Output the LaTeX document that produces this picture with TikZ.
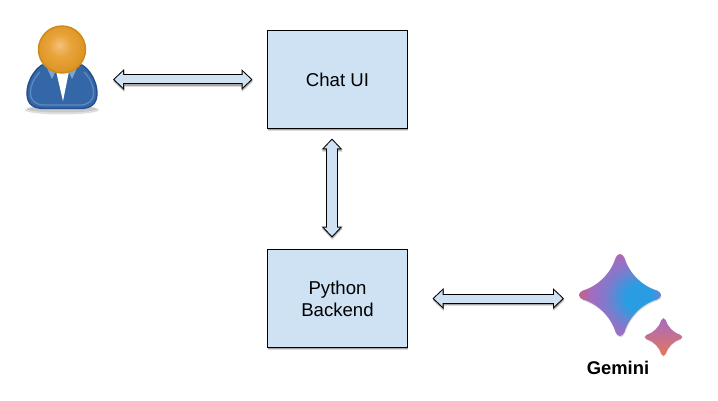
\documentclass[tikz,border=0pt]{standalone}
\usepackage{fontspec}
\setmainfont{Liberation Sans}
\usetikzlibrary{arrows.meta, positioning}

\definecolor{boxblue}{HTML}{CFE2F3}
\definecolor{gemorange}{HTML}{F0884E}
\definecolor{gemrose}{HTML}{C8607C}
\definecolor{gempurple}{HTML}{A36CC2}
\definecolor{gemblue}{HTML}{2A9DE2}
\definecolor{gempink}{HTML}{E8755A}
\definecolor{suitblue}{HTML}{3467A8}
\definecolor{suitdark}{HTML}{234F8C}
\definecolor{suitlight}{HTML}{6088BC}
\definecolor{collarblue}{HTML}{82A5CD}
\definecolor{headedge}{HTML}{CF8A16}
\definecolor{headhigh}{HTML}{F4C07E}
\definecolor{headmid}{HTML}{E8A43A}
\definecolor{headlow}{HTML}{DD9526}

\pgfdeclareradialshading{gemradial}{\pgfpoint{13bp}{-2bp}}{%
  color(0bp)=(gemblue); color(8bp)=(gemblue); color(17bp)=(gempurple!70!gemblue);
  color(24bp)=(gempurple); color(30bp)=(gemrose); color(36bp)=(gemorange); color(50bp)=(gemorange)}
\pgfdeclareradialshading{headradial}{\pgfpoint{-3bp}{5bp}}{%
  color(0bp)=(headhigh); color(12bp)=(headmid);
  color(25bp)=(headlow); color(50bp)=(headlow)}

\newcommand{\geminipath}{(-4.5,-37) .. controls (-2.5,-42.3) and (2.5,-42.3) .. (4.5,-37)
  .. controls (9,-22) and (22,-9) .. (37,-4.5) .. controls (42.3,-2.5) and (42.3,2.5) .. (37,4.5)
  .. controls (22,9) and (9,22) .. (4.5,37) .. controls (2.5,42.3) and (-2.5,42.3) .. (-4.5,37)
  .. controls (-9,22) and (-22,9) .. (-37,4.5) .. controls (-42.3,2.5) and (-42.3,-2.5) .. (-37,-4.5)
  .. controls (-22,-9) and (-9,-22) .. (-4.5,-37) -- cycle}

\tikzset{
  box/.style={draw=black, line width=1pt, fill=boxblue, minimum width=140pt, minimum height=98pt,
    outer sep=0pt, align=center, font=\fontsize{18.6}{22}\selectfont,
    preaction={fill=black!14, transform canvas={xshift=0.3pt,yshift=-2.6pt}},
    preaction={fill=black!35, transform canvas={xshift=0.3pt,yshift=-1.3pt}}},
  icon/.style={inner sep=0pt, outer sep=0pt},
  blockarrow/.style n args={3}{line width=#3, draw=black,
    {Triangle[length=11pt,width=20pt]}-{Triangle[length=11pt,width=20pt]},
    shorten <=#1, shorten >=#2,
    preaction={draw=black!14, line width=#3, transform canvas={xshift=0.3pt,yshift=-2.4pt},
      {Triangle[length=11pt,width=20pt]}-{Triangle[length=11pt,width=20pt]}},
    preaction={draw=black!35, line width=#3, transform canvas={xshift=0.3pt,yshift=-1.2pt},
      {Triangle[length=11pt,width=20pt]}-{Triangle[length=11pt,width=20pt]}},
    postaction={draw=boxblue, line width=#3-2pt,
      {Triangle[length=8.5pt,width=15.5pt]}-{Triangle[length=8.5pt,width=15.5pt]},
      shorten <=#1+1.5pt, shorten >=#2+1.5pt}}
}

\begin{document}
\begin{tikzpicture}[x=1pt, y=-1pt]
  \useasboundingbox (0,0) rectangle (718,401);

  \node[box] at (337.5,79.5) (chatui) {Chat UI};
  \node[box, below=121pt of chatui] (backend) {Python\\Backend};

  % the two pictures
  \node[icon, minimum width=75pt, minimum height=60pt, left=167.5pt of chatui] (user) {};
  \node[icon, minimum width=82pt, minimum height=82pt, right=171.5pt of backend] (gemini) {};
  \node[icon, below=21.5pt of gemini, xshift=-2pt, font=\fontsize{18.4}{20}\selectfont\bfseries] (geminilabel) {Gemini};

  % user
  \fill[black!25, opacity=0.5] (62,110) ellipse (37 and 4.5);
  \fill[black!30, opacity=0.5] (62,109) ellipse (35 and 3.5);
  \draw[draw=suitdark, line width=1.4pt, fill=suitblue]
    (42,65) .. controls (34,70) and (27,82) .. (27,93)
    .. controls (27,104) and (33,108.5) .. (44,108.5) -- (80,108.5)
    .. controls (91,108.5) and (97,104) .. (97,93)
    .. controls (97,82) and (90,70) .. (82,65) -- cycle;
  \draw[draw=suitlight, line width=1.3pt]
    (40,72) .. controls (34,78) and (30.5,85) .. (30.5,93)
    .. controls (30.5,101) and (36,105) .. (44,105) -- (80,105)
    .. controls (88,105) and (93.5,101) .. (93.5,93)
    .. controls (93.5,85) and (90,78) .. (84,72);
  \fill[collarblue] (47,68) -- (56,70) -- (52,79) -- cycle;
  \fill[collarblue] (77,68) -- (68,70) -- (72,79) -- cycle;
  \fill[white] (56,71) -- (69,71) -- (63,101) -- cycle;
  \shade[shading=headradial, draw=headedge, line width=1.4pt] (62,49.5) circle (23.5);

  % gemini
  \fill[black!40, opacity=0.35, shift={(620.5,296.2)}] \geminipath;
  \shade[shading=gemradial, shift={(620,295)}] \geminipath;
  \fill[black!40, opacity=0.35, shift={(663.5,337.7)}, scale=0.46] \geminipath;
  \shade[shift={(663.5,337)}, scale=0.46, shading angle=150, top color=gempurple, bottom color=gempink] \geminipath;

  % connectors
  \draw[blockarrow={13pt}{15pt}{10pt}] (user) -- (chatui);
  \draw[blockarrow={10pt}{12pt}{12pt}] ([xshift=-5.5pt]chatui.south) -- ([xshift=-5.5pt]backend.north);
  \draw[blockarrow={25pt}{15pt}{10pt}] (backend) -- (gemini);
\end{tikzpicture}
\end{document}
